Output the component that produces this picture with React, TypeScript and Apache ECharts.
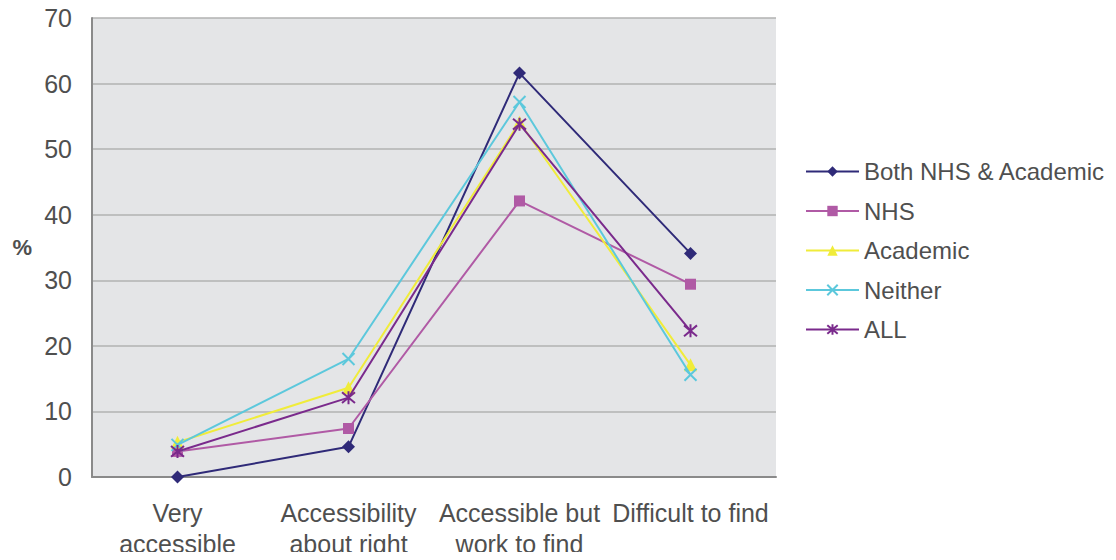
import React, { useEffect, useRef } from "react";
import * as echarts from "echarts";

const categories = [
  "Very\naccessible",
  "Accessibility\nabout right",
  "Accessible but\nwork to find",
  "Difficult to find",
];

const seriesNames = ["Both NHS & Academic", "NHS", "Academic", "Neither", "ALL"];

const bothValues = [0, 4.6, 61.6, 34.1];
const nhsValues = [3.9, 7.4, 42.1, 29.4];
const academicValues = [5.3, 13.6, 54.1, 17.1];
const neitherValues = [4.9, 18.0, 57.2, 15.6];
const allValues = [3.9, 12.1, 53.8, 22.3];

const yTicks = [0, 10, 20, 30, 40, 50, 60, 70];

const colors = ["#2f2a78", "#b05aa5", "#f0ec3a", "#5cc8dc", "#7a2a8c"];

const crossPath = "path://M0,0L10,10M10,0L0,10";
const asteriskPath = "path://M0,0L10,10M10,0L0,10M5,-1L5,11";

export default function App() {
  const ref = useRef<HTMLDivElement>(null);

  useEffect(() => {
    if (!ref.current) return;
    const chart = echarts.init(ref.current, undefined, { renderer: "svg" });

    const textColor = "#4f4f4f";
    const font = "'Liberation Sans', Arial, sans-serif";

    const dataSets = [bothValues, nhsValues, academicValues, neitherValues, allValues];
    const symbols = ["diamond", "rect", "triangle", crossPath, asteriskPath];
    const symbolSizes = [13, 11, 13, 12, 13];
    const stroked = [false, false, false, true, true];

    const series = dataSets.map((values, i) => ({
      name: seriesNames[i],
      type: "line",
      data: values,
      symbol: symbols[i],
      symbolSize: symbolSizes[i],
      showAllSymbol: true,
      lineStyle: { color: colors[i], width: 2 },
      itemStyle: stroked[i]
        ? { color: colors[i], borderColor: colors[i], borderWidth: 2 }
        : { color: colors[i], borderWidth: 0 },
      z: 2 + i,
    }));

    chart.setOption({
      animation: false,
      backgroundColor: "#ffffff",
      textStyle: { fontFamily: font },
      grid: {
        left: 92,
        right: 340,
        top: 18,
        bottom: 83,
        show: true,
        backgroundColor: "#e4e5e7",
        borderWidth: 0,
      },
      legend: {
        orient: "vertical",
        left: 800,
        top: 154,
        itemWidth: 53,
        itemHeight: 13,
        itemGap: 14.5,
        textStyle: { color: textColor, fontSize: 24, lineHeight: 25, fontFamily: font },
        data: seriesNames,
      },
      xAxis: {
        type: "category",
        data: categories,
        boundaryGap: true,
        axisTick: { show: false },
        axisLine: { lineStyle: { color: "#8a8a8a", width: 2 } },
        axisLabel: {
          color: textColor,
          fontSize: 25,
          lineHeight: 31,
          margin: 20,
          interval: 0,
          fontFamily: font,
        },
      },
      yAxis: {
        type: "value",
        min: yTicks[0],
        max: yTicks[yTicks.length - 1],
        interval: 10,
        name: "%",
        nameLocation: "middle",
        nameRotate: 0,
        nameGap: 60,
        nameTextStyle: { color: textColor, fontSize: 22, fontWeight: "bold", fontFamily: font },
        axisLine: { show: true, lineStyle: { color: "#8a8a8a", width: 2 } },
        axisTick: { show: false },
        axisLabel: { color: textColor, fontSize: 25, margin: 20, fontFamily: font },
        splitLine: { lineStyle: { color: "#b2b2b2", width: 1.5 } },
      },
      series,
    });

    return () => chart.dispose();
  }, []);

  return <div ref={ref} style={{ width: 1116, height: 560, margin: -8 }} />;
}
